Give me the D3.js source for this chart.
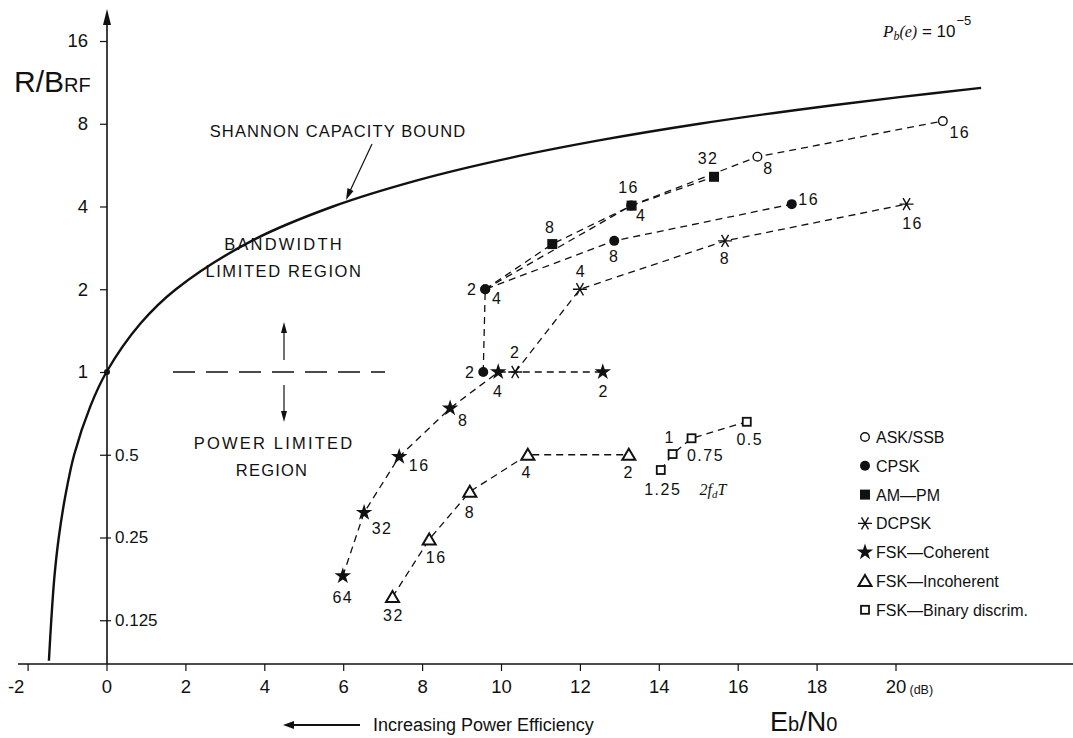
<!DOCTYPE html>
<html><head><meta charset="utf-8">
<script src="https://cdn.jsdelivr.net/npm/d3@7"></script>
<style>
body{margin:0;background:#fff}
svg{display:block}
text{font-family:"Liberation Sans",Arial,Helvetica,sans-serif;fill:#111}
</style>
</head><body>
<svg id="chart" width="1073" height="738"></svg>
<script>
// ---------------- data ----------------
const xTicks = [-2,0,2,4,6,8,10,12,14,16,18,20];
const yTicksUpper = [1,2,4,8,16];
const yTicksLower = [0.125,0.25,0.5];
const yTickLabels = {16:"16",8:"8",4:"4",2:"2",1:"1",0.5:"0.5",0.25:"0.25",0.125:"0.125"};
// Shannon capacity bound: [Eb/N0 dB, R/B]
const shannon = [[-1.46,0.089],[-1.40,0.125],[-1.32,0.18],[-1.21,0.25],[-1.05,0.35],[-0.82,0.5],[-0.41,0.75],[0,1],[0.86,1.5],[1.76,2],[3.68,3],[5.74,4],[7.92,5],[10.21,6],[12.59,7],[15.03,8],[17.54,9],[20.10,10],[22.17,10.8]];
const askSsb   = [{m:"2",x:9.6,y:2},{m:"4",x:13.3,y:4.03},{m:"8",x:16.5,y:6.07},{m:"16",x:21.2,y:8.18}];
const cpsk     = [{m:"2",x:9.55,y:1},{m:"4",x:9.6,y:2},{m:"8",x:12.87,y:3.0},{m:"16",x:17.37,y:4.08}];
const amPm     = [{m:"8",x:11.3,y:2.92},{m:"16",x:13.31,y:4.03},{m:"32",x:15.4,y:5.13}];
const dcpsk    = [{m:"2",x:10.36,y:1},{m:"4",x:12.0,y:2},{m:"8",x:15.68,y:3.0},{m:"16",x:20.28,y:4.08}];
const fskCoh   = [{m:"64",x:5.99,y:0.181},{m:"32",x:6.53,y:0.308},{m:"16",x:7.42,y:0.492},{m:"8",x:8.71,y:0.738},{m:"4",x:9.93,y:1},{m:"2",x:12.58,y:1}];
const fskIncoh = [{m:"32",x:7.25,y:0.152},{m:"16",x:8.18,y:0.246},{m:"8",x:9.21,y:0.367},{m:"4",x:10.68,y:0.5},{m:"2",x:13.24,y:0.5}];
const fskBin   = [{m:"1.25",x:14.05,y:0.44},{m:"1",x:14.35,y:0.503},{m:"0.75",x:14.83,y:0.574},{m:"0.5",x:16.23,y:0.659}];
const legendNames = ["ASK/SSB","CPSK","AM\u2014PM","DCPSK","FSK\u2014Coherent","FSK\u2014Incoherent","FSK\u2014Binary discrim."];

// ---------------- layout ----------------
const svg = d3.select("#chart");
const x = d3.scaleLinear().domain([0,20]).range([106.5,895.5]);
const y = d3.scaleLog().base(2).domain([1,16]).range([372,41]);
const axisY = 664, axisX = 107;

// label offsets (px) for point labels
const labelOff = {
  ask:   {"2":[-13,0],"4":[10,10],"8":[11,12],"16":[17,11]},
  cpsk:  {"2":[-13,0],"4":[12,9],"8":[0,16],"16":[17,-5]},
  ampm:  {"8":[-2,-17],"16":[-3,-18],"32":[-6,-18]},
  dcpsk: {"2":[0,-20],"4":[1,-18],"8":[0,18],"16":[6,19]},
  coh:   {"64":[0,21],"32":[18,16],"16":[20,9],"8":[13,12],"4":[0,19],"2":[1,19]},
  incoh: {"32":[1,19],"16":[7,18],"8":[0,21],"4":[-1,18],"2":[0,18]},
  bin:   {"1.25":[2,19],"1":[-3,-17],"0.75":[14,17],"0.5":[3,18]}
};

// marker drawers
const ink = "#111";
function drawMarker(g, type, cx, cy){
  if(type==="ask") g.append("circle").attr("cx",cx).attr("cy",cy).attr("r",4.3).attr("fill","#fff").attr("stroke",ink).attr("stroke-width",1.4);
  else if(type==="cpsk") g.append("circle").attr("cx",cx).attr("cy",cy).attr("r",5).attr("fill",ink);
  else if(type==="ampm") g.append("rect").attr("x",cx-5).attr("y",cy-5).attr("width",10).attr("height",10).attr("fill",ink);
  else if(type==="dcpsk"){
    const L=7, a=Math.PI/3;
    const p = `M${cx-L},${cy}L${cx+L},${cy}` +
      `M${cx-L*Math.cos(a)},${cy-L*Math.sin(a)}L${cx+L*Math.cos(a)},${cy+L*Math.sin(a)}` +
      `M${cx+L*Math.cos(a)},${cy-L*Math.sin(a)}L${cx-L*Math.cos(a)},${cy+L*Math.sin(a)}`;
    g.append("path").attr("d",p).attr("stroke",ink).attr("stroke-width",1.4).attr("fill","none");
  }
  else if(type==="coh") g.append("path").attr("d",d3.symbol(d3.symbolStar,85)()).attr("transform",`translate(${cx},${cy})`).attr("fill",ink);
  else if(type==="incoh") g.append("path").attr("d",`M${cx},${cy-6}L${cx+6.5},${cy+5}L${cx-6.5},${cy+5}Z`).attr("fill","#fff").attr("stroke",ink).attr("stroke-width",2);
  else if(type==="bin") g.append("rect").attr("x",cx-4).attr("y",cy-4).attr("width",8).attr("height",8).attr("fill","#fff").attr("stroke",ink).attr("stroke-width",1.8);
}

// ---------------- axes ----------------
const gx = svg.append("g").attr("transform",`translate(0,${axisY})`);
gx.append("line").attr("x1",18).attr("x2",1073).attr("y1",0).attr("y2",0).attr("stroke",ink).attr("stroke-width",1.6);
const xAxis = d3.axisBottom(x).tickValues(xTicks).tickSize(7).tickSizeOuter(0).tickFormat(d=>d);
const gxa = gx.append("g").call(xAxis);
gxa.select(".domain").remove();
gxa.selectAll(".tick line").attr("stroke",ink).attr("stroke-width",1.2);
gxa.selectAll(".tick text").attr("y",16).attr("dy","0.71em").style("font-family",'"Liberation Sans",Arial,sans-serif').style("font-size","18.5px").attr("fill",ink);
gxa.selectAll(".tick text").filter(d=>d===-2).attr("dx",-12).text("-2");
svg.append("text").attr("x",x(20)+14).attr("y",axisY+30).style("font-size","12.5px").text("(dB)");

// y axis
svg.append("line").attr("x1",axisX).attr("x2",axisX).attr("y1",axisY).attr("y2",20).attr("stroke",ink).attr("stroke-width",1.6);
svg.append("path").attr("d",`M${axisX},9L${axisX-4},25L${axisX+4},25Z`).attr("fill",ink);
const gyU = svg.append("g").attr("transform",`translate(${axisX},0)`).call(d3.axisLeft(y).tickValues(yTicksUpper).tickSize(7).tickSizeOuter(0).tickFormat(d=>yTickLabels[d]));
gyU.select(".domain").remove();
gyU.selectAll(".tick line").attr("stroke",ink).attr("stroke-width",1.2);
gyU.selectAll(".tick text").attr("x",-19).style("font-family",'"Liberation Sans",Arial,sans-serif').style("font-size","18.5px").attr("fill",ink);
const gyL = svg.append("g").attr("transform",`translate(${axisX},0)`).call(d3.axisRight(y).tickValues(yTicksLower).tickSize(4).tickSizeOuter(0).tickFormat(d=>yTickLabels[d]));
gyL.select(".domain").remove();
gyL.selectAll(".tick line").attr("x1",-7).attr("stroke",ink).attr("stroke-width",1.2);
gyL.selectAll(".tick text").attr("x",8).style("font-family",'"Liberation Sans",Arial,sans-serif').style("font-size","17px").attr("fill",ink);

// y label
const yl = svg.append("text").attr("x",14).attr("y",92);
yl.append("tspan").style("font-size","30px").text("R/B");
yl.append("tspan").style("font-size","20px").text("RF");

// x label
const xl = svg.append("text").attr("x",770).attr("y",731);
xl.append("tspan").style("font-size","27px").text("E");
xl.append("tspan").style("font-size","20px").text("b");
xl.append("tspan").style("font-size","27px").text("/N");
xl.append("tspan").style("font-size","20px").text("0");

// increasing power efficiency
svg.append("line").attr("x1",360).attr("x2",290).attr("y1",725).attr("y2",725).attr("stroke",ink).attr("stroke-width",2);
svg.append("path").attr("d","M283,725L294,721L294,729Z").attr("fill",ink);
svg.append("text").attr("x",373).attr("y",731).style("font-size","18px").text("Increasing Power Efficiency");

// Pb(e) = 10^-5
const pt = svg.append("text").attr("x",883).attr("y",37);
pt.append("tspan").style("font-family","'Liberation Serif',serif").style("font-style","italic").style("font-size","17px").text("P");
pt.append("tspan").style("font-family","'Liberation Serif',serif").style("font-style","italic").style("font-size","12px").attr("dy",3).text("b");
pt.append("tspan").style("font-family","'Liberation Serif',serif").style("font-style","italic").style("font-size","16px").attr("dy",-3).text("(e)");
pt.append("tspan").style("font-size","17px").text(" = 10");
pt.append("tspan").style("font-size","13px").attr("dx",1).attr("dy",-12).text("\u22125");

// ---------------- Shannon bound ----------------
const line = d3.line().x(d=>x(d[0])).y(d=>y(d[1])).curve(d3.curveCatmullRom.alpha(0.5));
svg.append("path").attr("d",line(shannon)).attr("fill","none").attr("stroke",ink).attr("stroke-width",2.4);
svg.append("circle").attr("cx",axisX).attr("cy",y(1)).attr("r",3).attr("fill",ink);

// annotations
svg.append("text").attr("x",338).attr("y",137).attr("text-anchor","middle").style("font-size","16.5px").style("letter-spacing","1.1px").text("SHANNON CAPACITY BOUND");
svg.append("line").attr("x1",372).attr("y1",144).attr("x2",350).attr("y2",191).attr("stroke",ink).attr("stroke-width",1.2);
svg.append("path").attr("d","M346,200L347.5,188L353.5,191Z").attr("fill",ink);

svg.append("text").attr("x",284).attr("y",250).attr("text-anchor","middle").style("font-size","16.5px").style("letter-spacing","2.2px").text("BANDWIDTH");
svg.append("text").attr("x",284).attr("y",277).attr("text-anchor","middle").style("font-size","16.5px").style("letter-spacing","1.6px").text("LIMITED REGION");
svg.append("text").attr("x",274).attr("y",449).attr("text-anchor","middle").style("font-size","16.5px").style("letter-spacing","2.2px").text("POWER LIMITED");
svg.append("text").attr("x",272).attr("y",476).attr("text-anchor","middle").style("font-size","16.5px").style("letter-spacing","1.2px").text("REGION");
svg.append("line").attr("x1",173).attr("x2",385).attr("y1",372).attr("y2",372).attr("stroke",ink).attr("stroke-width",1.4).attr("stroke-dasharray","22,11");
svg.append("line").attr("x1",284).attr("x2",284).attr("y1",360).attr("y2",331).attr("stroke",ink).attr("stroke-width",1.2);
svg.append("path").attr("d","M284,322L281,333L287,333Z").attr("fill",ink);
svg.append("line").attr("x1",284).attr("x2",284).attr("y1",385).attr("y2",413).attr("stroke",ink).attr("stroke-width",1.2);
svg.append("path").attr("d","M284,422L281,411L287,411Z").attr("fill",ink);

// ---------------- series ----------------
const pline = d3.line().x(d=>x(d.x)).y(d=>y(d.y));
const dashed = {stroke:ink,"stroke-width":1.3,"stroke-dasharray":"7,5",fill:"none"};
function drawLine(pts){
  const p = svg.append("path").attr("d",pline(pts));
  Object.entries(dashed).forEach(([k,v])=>p.attr(k,v));
}
drawLine(askSsb);
drawLine(cpsk);
drawLine([cpsk[1], ...amPm]);
drawLine(dcpsk);
drawLine(fskCoh);
drawLine(fskIncoh);
drawLine(fskBin);

const series = [
  ["ask",askSsb],["cpsk",cpsk],["ampm",amPm],["dcpsk",dcpsk],["coh",fskCoh],["incoh",fskIncoh],["bin",fskBin]
];
const mg = svg.append("g");
series.forEach(([t,data])=>data.forEach(d=>drawMarker(mg,t,x(d.x),y(d.y))));
const lg = svg.append("g");
series.forEach(([t,data])=>data.forEach(d=>{
  const o = labelOff[t][d.m];
  lg.append("text").attr("x",x(d.x)+o[0]).attr("y",y(d.y)+o[1]).attr("text-anchor","middle")
    .attr("dominant-baseline","central").style("font-size","16px").style("letter-spacing","1.5px").text(d.m);
}));
const ft = svg.append("text").attr("x",713).attr("y",495).attr("text-anchor","middle")
  .style("font-family","'Liberation Serif',serif").style("font-style","italic").style("font-size","16px");
ft.append("tspan").text("2f");
ft.append("tspan").style("font-size","11px").attr("dy",3).text("d");
ft.append("tspan").style("font-size","16px").attr("dy",-3).text("T");

// ---------------- legend ----------------
const legTypes = ["ask","cpsk","ampm","dcpsk","coh","incoh","bin"];
legTypes.forEach((t,i)=>{
  const cy = 437 + i*28.8;
  drawMarker(svg,t,865,cy);
  svg.append("text").attr("x",876).attr("y",cy+6).style("font-size","16px").text(legendNames[i]);
});
</script>
</body></html>
